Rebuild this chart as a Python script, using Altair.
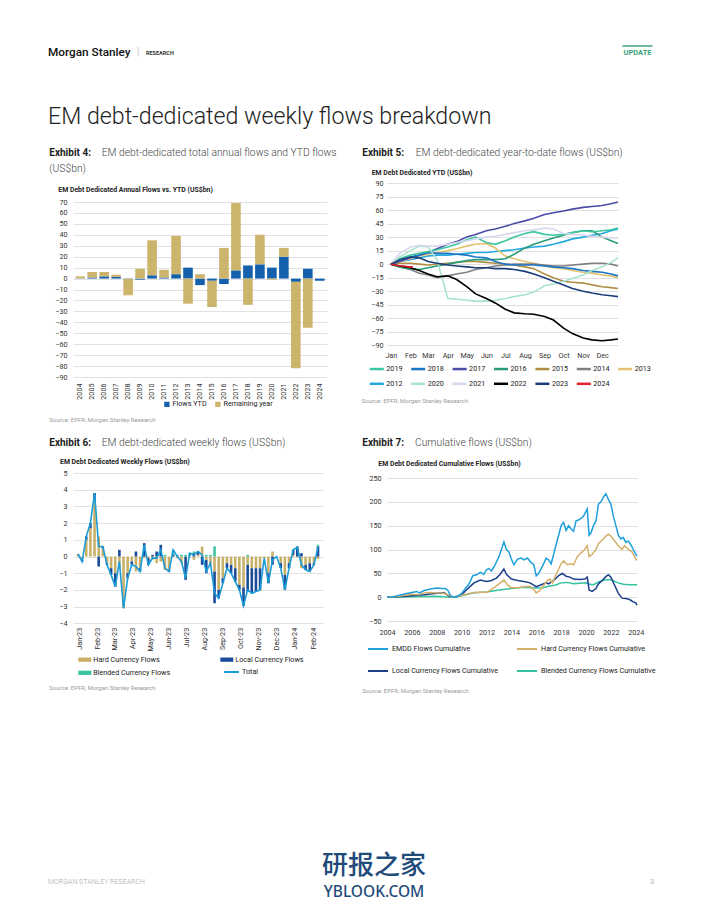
import altair as alt
import pandas as pd

NARROW = "Roboto"
SANS = "Roboto"
LAB = 7.2      # axis / legend label size
CT = 6.9       # chart title size

# ---------------- Exhibit 4: annual flows vs YTD ----------------
years4 = [str(y) for y in range(2004, 2025)]
flows_ytd = [0.2, 1, 2, 1.5, -0.3, -1, 3, 1, 4, 10, -6, -2, -5, 7.5, 12, 13, 10, 20, -3, 9, -2]
remaining_year = [1.8, 5, 4, 2, -15, 9, 32, 7, 35, -23, 4, -24, 28, 61.5, -24, 27, -1, 8, -79, -45, 0]
series4 = ["Flows YTD", "Remaining year"]
colors4 = ["#1560ad", "#cdb46d"]

# ---------------- Exhibit 5: YTD flows by year ----------------
ytd_dates = ["01-01", "01-15", "02-01", "02-15", "03-01", "03-15", "04-01", "04-15",
             "05-01", "05-15", "06-01", "06-15", "07-01", "07-15", "08-01", "08-15",
             "09-01", "09-15", "10-01", "10-15", "11-01", "11-15", "12-01", "12-15", "12-26"]
y2012 = [0, 3, 5, 7, 9, 10, 10, 11, 12, 13, 13, 14, 15, 16, 18, 19, 20, 22, 25, 28, 30, 32, 34, 37, 39]
y2013 = [0, 3, 6, 9, 11, 13, 15, 17, 20, 22, 23, 18, 9, 6, 3, 1, -2, -4, -5, -7, -9, -10, -12, -13, -15]
y2014 = [0, -3, -6, -10, -12, -15, -13, -11, -9, -6, -4, -2, -1, 0, 0, 0, -1, -2, -2, -1, 0, 1, 1, 0, -2]
y2015 = [0, 1, 1, 0, -1, 0, 1, 2, 3, 3, 2, 1, 0, -1, -3, -5, -11, -15, -19, -20, -21, -23, -25, -26, -27]
y2016 = [0, -3, -5, -6, -4, -2, 0, 2, 4, 5, 5, 5, 6, 11, 18, 22, 26, 29, 32, 35, 37, 37, 30, 26, 23]
y2017 = [0, 3, 7, 10, 13, 17, 22, 25, 30, 33, 37, 39, 42, 45, 48, 51, 55, 57, 59, 61, 63, 64, 65, 67, 69]
y2018 = [0, 5, 8, 10, 13, 12, 12, 11, 10, 8, 7, 3, 0, -1, -1, -1, -2, -3, -4, -5, -7, -8, -9, -11, -13]
y2019 = [0, 6, 10, 12, 14, 16, 19, 22, 27, 30, 24, 22, 26, 30, 34, 36, 33, 32, 33, 35, 37, 36, 37, 38, 40]
y2020 = [0, 8, 15, 20, 19, 5, -38, -39, -40, -41, -41, -40, -38, -36, -34, -31, -24, -22, -19, -16, -12, -7, -3, 2, 7]
y2021 = [0, 12, 19, 21, 20, 20, 22, 24, 26, 28, 30, 31, 33, 35, 37, 38, 40, 39, 34, 33, 32, 31, 30, 29, 29]
y2022 = [0, -2, -4, -7, -11, -14, -13, -17, -25, -33, -38, -43, -50, -54, -55, -55.5, -58, -62, -71, -77, -82, -84, -85, -84, -83]
y2023 = [0, 5, 8, 7, 3, 1, -1, -2, -3, -4, -4, -5, -5, -6, -8, -11, -15, -19, -23, -27, -30, -32, -34, -35, -36]
ytd_dates_2024 = ["01-01", "01-08", "01-15", "01-22", "01-29", "02-05"]
y2024 = [0, -1, -2, -2, -3, -3]
legend5 = ["2019", "2018", "2017", "2016", "2015", "2014", "2013",
           "2012", "2020", "2021", "2022", "2023", "2024"]
colors5 = ["#3cc6a1", "#1c76c6", "#4b4ba8", "#2a9d78", "#b08d44", "#808080", "#e2c26e",
           "#23a8e0", "#a8e3cf", "#d7d7ef", "#000000", "#1c3d7a", "#e3202b"]

# ---------------- Exhibit 6: weekly flows ----------------
weeks6 = pd.date_range("2022-12-30", periods=59, freq="7D").strftime("%Y-%m-%dT00:00:00").tolist()
hard6 = [0.15, -0.2, 1.0, 1.7, 3.4, 1.2, 0.5, -0.4, -0.7, -1.0,
         -0.7, -3.1, -1.0, -0.3, -0.9, -0.7, -0.1, -0.1, -0.2, -0.4,
         -0.3, -0.8, -0.8, 0.0, -0.1, -0.4, 0.0, 0.0, -0.2, 0.1,
         0.6, -0.2, -0.5, -0.9, -2.0, -1.3, -0.4, -0.5, -0.7, -1.7,
         -1.85, -0.5, -0.7, -0.7, -0.7, -0.1, -1.0, 0.3, 0.0, -0.4,
         -1.1, -0.4, 0.1, -0.05, -0.7, -0.5, -0.4, -0.4, -0.15]
local6 = [0.0, -0.1, 0.2, 0.3, 0.4, -0.6, 0.1, -0.1, -0.4, -0.8,
          0.4, 0.0, -0.3, -0.2, 0.3, -0.2, 0.8, -0.4, 0.1, 0.3,
          0.7, 0.0, -0.1, 0.1, 0.0, 0.0, -1.4, 0.0, 0.2, 0.2,
          -0.5, -0.8, 0.0, -1.9, -0.5, -0.3, -0.3, -0.5, -0.8, -0.3,
          -1.1, -1.6, -1.5, -1.4, -1.3, 0.0, -0.6, -0.5, 0.0, -0.3,
          -0.9, -0.3, 0.3, 0.6, 0.2, -0.3, -0.5, -0.1, 0.6]
blended6 = [0, 0, 0, 0, 0, 0, 0, 0, 0, 0,
            0, 0, 0, 0, 0, 0, 0, 0, 0, 0,
            0, 0.1, 0, 0.3, 0.1, 0.1, 0.1, 0.2, 0.1, 0,
            0, 0.1, 0.1, 0.6, 0, 0, 0, 0, 0, 0,
            0, 0.1, 0, 0, 0, 0, 0, 0, 0, 0,
            0, 0, 0, 0, 0, 0, 0, 0, 0.1]
series6 = ["Hard Currency Flows", "Local Currency Flows", "Blended Currency Flows"]
colors6 = ["#c9b069", "#1b4c9a", "#3cc3a0"]

# ---------------- Exhibit 7: cumulative flows ----------------
emdd_t = [2004.0, 2004.5, 2005.0, 2005.5, 2006.0, 2006.4, 2006.6, 2007.0, 2007.5, 2008.0,
          2008.4, 2008.7, 2008.9, 2009.1, 2009.4, 2009.7, 2010.0, 2010.3, 2010.6, 2010.9,
          2011.2, 2011.5, 2011.8, 2012.0, 2012.2, 2012.4, 2012.7, 2013.0, 2013.2, 2013.4,
          2013.6, 2013.8, 2014.0, 2014.2, 2014.5, 2014.8, 2015.0, 2015.3, 2015.5, 2015.8,
          2016.0, 2016.2, 2016.5, 2016.8, 2017.0, 2017.2, 2017.4, 2017.7, 2018.0, 2018.2,
          2018.4, 2018.6, 2018.8, 2019.0, 2019.2, 2019.4, 2019.6, 2019.8, 2020.0, 2020.1,
          2020.25, 2020.4, 2020.6, 2020.8, 2021.0, 2021.2, 2021.4, 2021.6, 2021.8, 2022.0,
          2022.2, 2022.4, 2022.6, 2022.8, 2023.0, 2023.2, 2023.4, 2023.6, 2023.8, 2024.0, 2024.1]
emdd_v = [0, 1, 4, 7, 10, 12, 9, 14, 17, 19,
          18, 18, 14, 3, 0, 2, 8, 18, 28, 45,
          47, 52, 48, 58, 60, 55, 68, 85, 100, 116,
          100, 95, 80, 68, 80, 82, 78, 82, 75, 68,
          45, 50, 65, 82, 78, 70, 90, 120, 150, 157,
          140, 150, 143, 138, 160, 162, 165, 170, 180, 185,
          130, 135, 150, 160, 195, 200, 210, 217, 205, 195,
          170, 150, 130, 122, 125, 115, 118, 110, 100, 90, 86]
hard_t = [2004.0, 2005.0, 2006.0, 2006.5, 2007.0, 2007.5, 2008.0, 2008.5, 2008.9, 2009.3,
          2009.7, 2010.0, 2010.5, 2011.0, 2011.5, 2012.0, 2012.5, 2013.0, 2013.4, 2013.7,
          2014.0, 2014.5, 2015.0, 2015.5, 2015.8, 2016.0, 2016.3, 2016.6, 2016.9, 2017.1,
          2017.3, 2017.6, 2018.0, 2018.2, 2018.5, 2018.8, 2019.0, 2019.3, 2019.6, 2019.9,
          2020.1, 2020.25, 2020.5, 2020.8, 2021.0, 2021.3, 2021.6, 2021.8, 2022.0, 2022.3,
          2022.6, 2022.9, 2023.1, 2023.4, 2023.7, 2024.0, 2024.1]
hard_v = [0, 2, 6, 5, 9, 10, 9, 8, 5, 0,
          2, 4, 7, 10, 11, 10, 18, 28, 36, 25,
          20, 20, 22, 23, 16, 9, 14, 25, 35, 38,
          30, 48, 70, 76, 68, 70, 68, 85, 93, 100,
          108, 85, 90, 100, 112, 120, 128, 132, 128, 118,
          108, 100, 108, 100, 95, 80, 77]
local_t = [2004.0, 2005.0, 2006.0, 2007.0, 2008.0, 2008.6, 2009.0, 2009.5, 2010.0, 2010.5,
           2011.0, 2011.5, 2012.0, 2012.4, 2012.8, 2013.1, 2013.4, 2013.6, 2014.0, 2014.5,
           2015.0, 2015.5, 2016.0, 2016.4, 2016.8, 2017.0, 2017.4, 2017.8, 2018.1, 2018.4,
           2018.7, 2019.0, 2019.5, 2019.9, 2020.1, 2020.25, 2020.5, 2020.8, 2021.0, 2021.3,
           2021.6, 2021.8, 2022.0, 2022.3, 2022.6, 2022.9, 2023.2, 2023.5, 2023.8, 2024.0, 2024.1]
local_v = [0, 1, 3, 5, 8, 9, 2, 0, 5, 18,
           30, 36, 33, 35, 40, 48, 59, 48, 38, 35,
           33, 30, 22, 26, 30, 28, 35, 45, 50, 44,
           42, 38, 37, 38, 42, 15, 12, 18, 28, 35,
           43, 47, 42, 25, 8, -2, -3, -5, -10, -12, -17]
blended_t = [2004.0, 2006.0, 2008.0, 2009.0, 2010.0, 2011.0, 2012.0, 2013.0, 2014.0, 2015.0,
             2016.0, 2016.5, 2017.0, 2017.5, 2018.0, 2018.5, 2019.0, 2019.5, 2020.0, 2020.3,
             2020.6, 2021.0, 2021.5, 2022.0, 2022.3, 2022.7, 2023.0, 2023.5, 2024.0, 2024.1]
blended_v = [0, 1, 2, 0, 3, 9, 11, 15, 18, 21,
             19, 20, 23, 25, 30, 31, 28, 29, 30, 27,
             26, 32, 36, 37, 33, 29, 27, 26, 26, 25]
series7 = ["EMDD Flows Cumulative", "Hard Currency Flows Cumulative",
           "Local Currency Flows Cumulative", "Blended Currency Flows Cumulative"]
colors7 = ["#1f9fdc", "#d4b06a", "#1b3f8b", "#35c2a0"]

# ---------------- tables ----------------
df4 = pd.DataFrame({
    "year": years4 * 2,
    "series": [series4[0]] * len(years4) + [series4[1]] * len(years4),
    "value": flows_ytd + remaining_year,
    "ord": [0] * len(years4) + [1] * len(years4),
})

rows5 = []
draw_order5 = [("2012", y2012), ("2013", y2013), ("2014", y2014), ("2015", y2015),
               ("2016", y2016), ("2017", y2017), ("2018", y2018), ("2019", y2019),
               ("2020", y2020), ("2021", y2021), ("2023", y2023), ("2022", y2022)]
for name, vals in draw_order5:
    for d, v in zip(ytd_dates, vals):
        rows5.append({"series": name, "date": "2001-" + d + "T00:00:00", "value": v})
for d, v in zip(ytd_dates_2024, y2024):
    rows5.append({"series": "2024", "date": "2001-" + d + "T00:00:00", "value": v})
df5 = pd.DataFrame(rows5)

df6 = pd.DataFrame({
    "date": weeks6 * 3,
    "series": [series6[0]] * 59 + [series6[1]] * 59 + [series6[2]] * 59,
    "value": hard6 + local6 + blended6,
    "ord": [0] * 59 + [1] * 59 + [2] * 59,
})

df7 = pd.concat([
    pd.DataFrame({"t": blended_t, "v": blended_v, "series": series7[3]}),
    pd.DataFrame({"t": local_t, "v": local_v, "series": series7[2]}),
    pd.DataFrame({"t": hard_t, "v": hard_v, "series": series7[1]}),
    pd.DataFrame({"t": emdd_t, "v": emdd_v, "series": series7[0]}),
], ignore_index=True)

one = pd.DataFrame({"k": [0]})


def txt(s, x, y, size, color="#222222", weight="normal", font=SANS, align="left"):
    return alt.Chart(one).mark_text(
        text=s, font=font, fontSize=size, fontWeight=weight, color=color,
        align=align, baseline="middle"
    ).encode(x=alt.value(x), y=alt.value(y))


def spacer(w, h):
    return alt.Chart(one).mark_rule(strokeWidth=0, opacity=0).encode(
        x=alt.value(1), x2=alt.value(2), y=alt.value(1)).properties(width=w, height=h)


def yaxis(vals, pad):
    return alt.Axis(values=vals, labelPadding=pad, grid=True, ticks=False, domain=False,
                    labelOverlap=False, labelFont=NARROW, labelFontSize=LAB,
                    labelColor="#333333")


# ---------------- page texts ----------------
desc_c = "#444444"
src_c = "#9a9a9a"
DS = 10.3
page = alt.layer(
    txt("Morgan Stanley", 40, 44, 11.8, "#111111", 500),
    txt("|", 129, 44, 10, "#a0a0a0", 300),
    txt("RESEARCH", 138, 44.5, 5.5, "#333333", "bold"),
    txt("UPDATE", 629.5, 44.5, 7.5, "#3aa57b", "bold", align="center"),
    alt.Chart(one).mark_rule(color="#3aa57b", strokeWidth=1.5).encode(
        x=alt.value(614.5), x2=alt.value(644.5), y=alt.value(38)),
    txt("EM debt-dedicated weekly flows breakdown", 40, 109, 23.2, "#222222", 300),
    # Exhibit 4
    txt("Exhibit 4:", 41.3, 145.3, 10, "#222222", "bold"),
    txt("EM debt-dedicated total annual flows and YTD flows", 93.7, 145.3, DS, desc_c, 300),
    txt("(US$bn)", 41.3, 161.3, DS, desc_c, 300),
    txt("EM Debt Dedicated Annual Flows vs. YTD (US$bn)", 50.3, 182, CT, "#222222", "bold", NARROW),
    txt("Source: EPFR, Morgan Stanley Research", 41.3, 412, 6, src_c),
    # Exhibit 5
    txt("Exhibit 5:", 354.3, 145.3, 10, "#222222", "bold"),
    txt("EM debt-dedicated year-to-date flows (US$bn)", 407.7, 145.3, DS, desc_c, 300),
    txt("EM Debt Dedicated YTD (US$bn)", 363.7, 165.3, CT, "#222222", "bold", NARROW),
    txt("Source: EPFR, Morgan Stanley Research", 353.7, 393, 6, src_c),
    # Exhibit 6
    txt("Exhibit 6:", 41.3, 435.3, 10, "#222222", "bold"),
    txt("EM debt-dedicated weekly flows (US$bn)", 93.7, 435.3, DS, desc_c, 300),
    txt("EM Debt Dedicated Weekly Flows (US$bn)", 52, 453.7, CT, "#222222", "bold", NARROW),
    txt("Source: EPFR, Morgan Stanley Research", 41.3, 680.3, 6, src_c),
    # Exhibit 7
    txt("Exhibit 7:", 354.3, 435.3, 10, "#222222", "bold"),
    txt("Cumulative flows (US$bn)", 407, 435.3, DS, desc_c, 300),
    txt("EM Debt Dedicated Cumulative Flows (US$bn)", 370.3, 456.3, CT, "#222222", "bold", NARROW),
    txt("Source: EPFR, Morgan Stanley Research", 354.3, 683, 6, src_c),
    # footer
    txt("MORGAN STANLEY RESEARCH", 40, 874, 7, "#aaaaaa", 300),
    txt("3", 642, 874, 8, "#999999", 300),
    txt("研报之家", 366, 857.5, 26, "#1f4b7a", 500, "Noto Sans CJK SC", "center"),
    txt("YBLOOK.COM", 366, 883.5, 15.5, "#1f4b7a", 500, "Noto Sans", "center"),
).properties(width=65, height=174.7)

# ---------------- Exhibit 4 chart ----------------
ex4 = alt.Chart(df4).mark_bar().encode(
    x=alt.X("year:N", sort=None, title=None,
            scale=alt.Scale(paddingInner=0.2, paddingOuter=0.2),
            axis=alt.Axis(labelAngle=270, ticks=False, domain=False, labelPadding=6,
                          labelFont=NARROW, labelFontSize=LAB, labelColor="#333333")),
    y=alt.Y("value:Q", stack="zero", title=None,
            scale=alt.Scale(domain=[-90, 70], nice=False, range=[194, 19]),
            axis=yaxis(list(range(-90, 71, 10)), 6)),
    color=alt.Color("series:N", scale=alt.Scale(domain=series4, range=colors4),
                    legend=alt.Legend(orient="none", legendX=90.3, legendY=217.7,
                                      direction="horizontal", title=None,
                                      symbolType="square", symbolSize=28,
                                      symbolStrokeWidth=0, labelOffset=2,
                                      columnPadding=7, padding=0)),
    order=alt.Order("ord:Q"),
).properties(width=254, height=194)

# ---------------- Exhibit 5 chart ----------------
ex5 = alt.Chart(df5).mark_line(strokeWidth=1.6).encode(
    x=alt.X("date:T", title=None,
            scale=alt.Scale(domain=[alt.DateTime(year=2000, month=12, date=26),
                                    alt.DateTime(year=2001, month=12, date=26)]),
            axis=alt.Axis(format="%b", tickCount={"interval": "month", "step": 1},
                          grid=False, ticks=False, domain=False, labelPadding=6,
                          labelFlush=False, labelOverlap=False,
                          labelFont=NARROW, labelFontSize=LAB, labelColor="#333333")),
    y=alt.Y("value:Q", title=None,
            scale=alt.Scale(domain=[-90, 90], nice=False),
            axis=yaxis(list(range(-90, 91, 15)), 4)),
    color=alt.Color("series:N", sort=None,
                    scale=alt.Scale(domain=legend5, range=colors5),
                    legend=alt.Legend(orient="none", legendX=-18.7, legendY=177.3,
                                      columns=7, direction="horizontal", title=None,
                                      symbolType="stroke", symbolSize=196,
                                      symbolStrokeWidth=2.5, labelOffset=1,
                                      columnPadding=2.4, rowPadding=1, padding=0)),
).properties(width=231, height=162.3)

# ---------------- Exhibit 6 chart ----------------
x6 = alt.X("date:T", title=None,
           scale=alt.Scale(domain=[alt.DateTime(year=2022, month=12, date=30),
                                   alt.DateTime(year=2024, month=2, date=9)]),
           axis=alt.Axis(format="%b-%y", tickCount={"interval": "month", "step": 1},
                         labelAngle=270, grid=False, ticks=False, domain=False,
                         labelPadding=4, labelFlush=False, labelOverlap=False,
                         labelFont=NARROW, labelFontSize=LAB, labelColor="#333333"))
y6axis = yaxis(list(range(-4, 6)), 6)
bars6 = alt.Chart(df6).mark_bar(width=2.6).encode(
    x=x6,
    y=alt.Y("value:Q", stack="zero", title=None,
            scale=alt.Scale(domain=[-4, 5], nice=False), axis=y6axis),
    color=alt.Color("series:N", sort=None,
                    scale=alt.Scale(domain=series6, range=colors6),
                    legend=alt.Legend(orient="none", legendX=5.3, legendY=180,
                                      columns=2, direction="horizontal", title=None,
                                      symbolType="M-1,-0.33L1,-0.33L1,0.33L-1,0.33Z",
                                      symbolSize=169, symbolStrokeWidth=0,
                                      labelOffset=2, columnPadding=50, rowPadding=3.3,
                                      padding=0)),
    order=alt.Order("ord:Q"),
)
line6 = alt.Chart(df6).transform_aggregate(
    total="sum(value)", groupby=["date"]
).transform_calculate(lbl="'Total'").mark_line(strokeWidth=1.6).encode(
    x=x6,
    y=alt.Y("total:Q", title=None, scale=alt.Scale(domain=[-4, 5], nice=False), axis=y6axis),
    stroke=alt.Stroke("lbl:N", scale=alt.Scale(domain=["Total"], range=["#1a9bd7"]),
                      legend=alt.Legend(orient="none", legendX=150, legendY=190.5,
                                        title=None, symbolType="stroke", symbolSize=225,
                                        symbolStrokeWidth=2, labelOffset=2, padding=0)),
)
ex6 = alt.layer(bars6, line6).properties(width=250, height=150.3)

# ---------------- Exhibit 7 chart ----------------
ex7 = alt.Chart(df7).mark_line(strokeWidth=1.5).encode(
    x=alt.X("t:Q", title=None,
            scale=alt.Scale(domain=[2004, 2024.1], nice=False, zero=False),
            axis=alt.Axis(values=list(range(2004, 2025, 2)), format="d", grid=False,
                          ticks=False, domain=False, labelPadding=7, labelFlush=False,
                          labelOverlap=False,
                          labelFont=NARROW, labelFontSize=LAB, labelColor="#333333")),
    y=alt.Y("v:Q", title=None,
            scale=alt.Scale(domain=[-50, 250], nice=False, range=[148, 5]),
            axis=yaxis(list(range(-50, 251, 50)), 6)),
    color=alt.Color("series:N", sort=None,
                    scale=alt.Scale(domain=series7, range=colors7),
                    legend=alt.Legend(orient="none", legendX=-20, legendY=165,
                                      columns=2, direction="horizontal", title=None,
                                      symbolType="stroke", symbolSize=400,
                                      symbolStrokeWidth=2, labelOffset=3,
                                      columnPadding=15, rowPadding=7, padding=0)),
).properties(width=250, height=148)

cells = [
    page, spacer(1, 174.7), spacer(1, 174.7), spacer(1, 174.7),
    spacer(65, 194), ex4, spacer(60, 194), ex5,
    spacer(65, 96), spacer(250, 96), spacer(60, 96), spacer(250, 96),
    spacer(65, 150.3), ex6, spacer(60, 148), ex7,
]

chart = alt.concat(*cells, columns=4, spacing=0, bounds="flush", align="each").resolve_scale(
    color="independent", stroke="independent"
).resolve_legend(
    color="independent", stroke="independent"
).properties(
    padding=0
).configure_view(strokeWidth=0).configure_axis(
    gridColor="#d9d9d9", gridWidth=0.8
).configure_legend(
    labelFont=NARROW, labelFontSize=LAB, labelColor="#222222", labelLimit=300
)

chart.save("out.html", embed_options={"renderer": "svg", "actions": False})
